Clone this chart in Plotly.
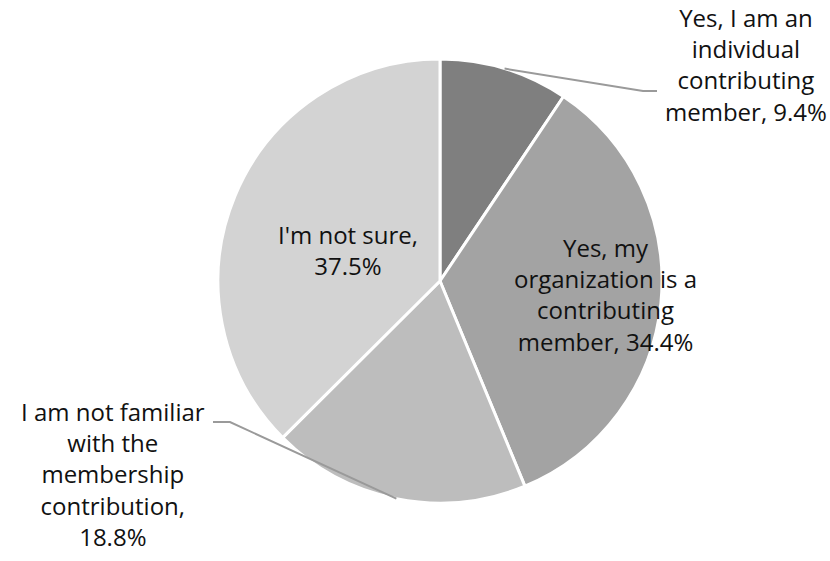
import math
import plotly.graph_objects as go

# Survey responses (share of respondents, %)
labels = [
    "Yes, I am an individual contributing member",
    "Yes, my organization is a contributing member",
    "I am not familiar with the membership contribution",
    "I'm not sure",
]
values = [9.4, 34.4, 18.8, 37.5]
colors = ["#7f7f7f", "#a3a3a3", "#bdbdbd", "#d3d3d3"]

# Wrapped label lines for each slice (the value is appended below)
label_lines = [
    ["Yes, I am an", "individual", "contributing", "member,"],
    ["Yes, my", "organization is a", "contributing", "member,"],
    ["I am not familiar", "with the", "membership", "contribution,"],
    ["I'm not sure,"],
]

W, H = 830, 561
CX, CY, R = 440, 281, 222  # pie centre and radius in pixels


def px(x):
    return x / W


def py(y):
    return 1 - y / H


fig = go.Figure(
    go.Pie(
        labels=labels,
        values=values,
        sort=False,
        direction="clockwise",
        rotation=0,
        marker=dict(colors=colors, line=dict(color="white", width=3)),
        textinfo="none",
        hoverinfo="label+percent",
        showlegend=False,
        domain=dict(x=[px(CX - R), px(CX + R)], y=[py(CY + R), py(CY - R)]),
    )
)


def label_text(i):
    lines = list(label_lines[i])
    val = f"{values[i]:.1f}%"
    if i in (0, 1):
        lines[-1] = lines[-1] + " " + val
    else:
        lines.append(val)
    return "<br>".join(lines)


# label placement (pixel centres)
label_pos = [(746, 65), (605, 294), (113, 474), (348, 250)]

font = dict(family="'Open Sans', 'Noto Sans', sans-serif", size=24, color="#111111")
for i, (lx, ly) in enumerate(label_pos):
    fig.add_annotation(
        x=px(lx), y=py(ly), xref="paper", yref="paper",
        text=label_text(i), showarrow=False, align="center",
        xanchor="center", yanchor="middle", font=font,
    )


def slice_anchor(i, frac):
    total = sum(values)
    start = sum(values[:i]) / total
    mid = (start + values[i] / total / 2) * 2 * math.pi
    return CX + frac * R * math.sin(mid), CY - frac * R * math.cos(mid)


# leader lines for the two outside labels
leaders = [
    (0, 1.0, [(643, 91), (657, 91)]),
    (2, 1.0, [(230, 422), (213, 422)]),
]
for i, frac, pts in leaders:
    ax, ay = slice_anchor(i, frac)
    path = f"M {px(ax)},{py(ay)}" + "".join(f" L {px(x)},{py(y)}" for x, y in pts)
    fig.add_shape(type="path", path=path, xref="paper", yref="paper",
                  line=dict(color="#9a9a9a", width=2))

fig.update_layout(
    width=W, height=H,
    margin=dict(l=0, r=0, t=0, b=0),
    paper_bgcolor="white", plot_bgcolor="white",
)

fig.write_html("out.html")
